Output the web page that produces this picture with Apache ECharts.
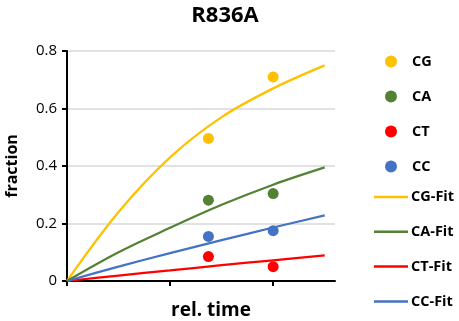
<!DOCTYPE html>
<html>
<head>
<meta charset="utf-8">
<script src="https://cdn.jsdelivr.net/npm/echarts@6/dist/echarts.min.js"></script>
<style>html,body{margin:0;padding:0;background:#fff;}#c{width:459px;height:321px;}</style>
</head>
<body>
<div id="c"></div>
<script>
// Measured points
const pointTimes = [0.686, 1.0];
const CG = [0.496, 0.710];
const CA = [0.281, 0.304];
const CT = [0.085, 0.050];
const CC = [0.155, 0.175];
// Fit curves
const fitTimes = [0, 0.25, 0.5, 0.75, 1.0, 1.25];
const CGFit = [0, 0.24, 0.43, 0.57, 0.67, 0.75];
const CAFit = [0, 0.10, 0.185, 0.265, 0.335, 0.395];
const CTFit = [0, 0.019, 0.037, 0.055, 0.072, 0.089];
const CCFit = [0, 0.05, 0.097, 0.142, 0.186, 0.228];
const pointNames = ['CG','CA','CT','CC'];
const fitNames = ['CG-Fit','CA-Fit','CT-Fit','CC-Fit'];

const colors = {CG:'#FFC000', CA:'#548235', CT:'#FF0000', CC:'#4472C4'};
const FONT = '"Open Sans", sans-serif';

function pts(xs, ys){ return xs.map((x,i)=>[x, ys[i]]); }

function scatter(name, ys){
  return {name, type:'scatter', data: pts(pointTimes, ys), symbol:'circle', symbolSize:11,
    itemStyle:{color: colors[name], opacity:1}, z:3};
}
function fit(name, key, ys){
  return {name, type:'line', data: pts(fitTimes, ys), smooth:0.35, symbol:'none', showSymbol:false,
    lineStyle:{color: colors[key], width:2.25}, itemStyle:{color: colors[key]}, z:2};
}

function legendText(padLeft){
  return {color:'#000', fontSize:14.5, fontWeight:'bold', fontFamily:FONT, lineHeight:14, padding:[0,0,0,padLeft]};
}

const chart = echarts.init(document.getElementById('c'), null, {renderer:'canvas'});
chart.setOption({
  animation:false,
  backgroundColor:'#fff',
  grid:{left:67, right:124, top:51, bottom:40, containLabel:false},
  xAxis:{type:'value', min:0, max:1.3, interval:0.5,
    axisLine:{show:true, onZero:false, lineStyle:{color:'#000', width:2}},
    axisTick:{show:true, inside:false, length:5, lineStyle:{color:'#000', width:2}, customValues:[0,0.5,1.0]},
    axisLabel:{show:false},
    splitLine:{show:false}},
  yAxis:{type:'value', min:0, max:0.8, interval:0.2,
    axisLine:{show:true, lineStyle:{color:'#000', width:2}},
    axisTick:{show:true, length:5, lineStyle:{color:'#000', width:2}},
    axisLabel:{color:'#000', fontSize:15, fontFamily:FONT, margin:10,
      formatter: v => String(Math.round(v*10)/10)},
    splitLine:{show:true, lineStyle:{color:'#D9D9D9', width:1.5}}},
  legend:[
    {orient:'vertical', left:385, top:54, padding:0, itemWidth:12, itemHeight:12, itemGap:20,
      icon:'circle', textStyle:legendText(10), data:pointNames},
    {orient:'vertical', left:374, top:189.5, padding:0, itemWidth:34, itemHeight:2.5, itemGap:19.8,
      icon:'rect', textStyle:legendText(-2), data:fitNames}
  ],
  graphic:[
    {type:'text', x:225, y:16, style:{text:'R836A', font:'bold 22px '+FONT, fill:'#000', textAlign:'center', textVerticalAlign:'middle'}},
    {type:'text', x:12, y:166, rotation:Math.PI/2, style:{text:'fraction', font:'bold 16px '+FONT, fill:'#000', textAlign:'center', textVerticalAlign:'middle'}},
    {type:'text', x:211, y:311, style:{text:'rel. time', font:'bold 19px '+FONT, fill:'#000', textAlign:'center', textVerticalAlign:'middle'}}
  ],
  series:[
    scatter('CG', CG), scatter('CA', CA), scatter('CT', CT), scatter('CC', CC),
    fit('CG-Fit','CG', CGFit), fit('CA-Fit','CA', CAFit), fit('CT-Fit','CT', CTFit), fit('CC-Fit','CC', CCFit)
  ]
});
</script>
</body>
</html>
